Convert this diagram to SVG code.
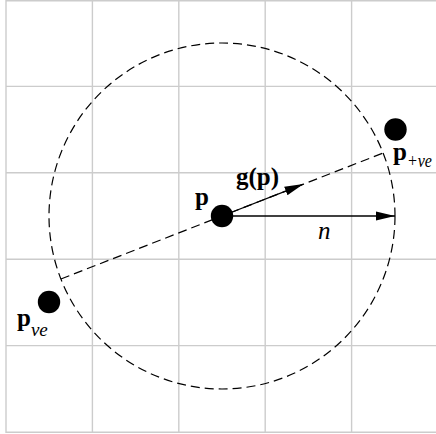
<svg xmlns="http://www.w3.org/2000/svg" width="436" height="434" viewBox="0 0 436 434">
  <style>
    .grid line { stroke: #cccccc; stroke-width: 1.4; }
    .dash { fill: none; stroke: #000; stroke-width: 1.2; stroke-dasharray: 9 5; }
    .arrow { stroke: #000; stroke-width: 1.3; fill: none; marker-end: url(#head); }
    .dot { fill: #000; }
    .b { font-family: "Liberation Serif", "Times New Roman", serif; font-weight: bold; font-size: 25px; fill: #000; }
    .i { font-family: "Liberation Serif", "Times New Roman", serif; font-style: italic; font-size: 25px; fill: #000; }
    .sub { font-family: "Liberation Serif", "Times New Roman", serif; font-style: italic; font-size: 19px; fill: #000; }
  </style>
  <defs>
    <marker id="head" markerUnits="userSpaceOnUse" markerWidth="22" markerHeight="12" refX="19" refY="5" orient="auto">
      <path d="M0,0.5 L19,5 L0,9.5 Z" fill="#000"/>
    </marker>
  </defs>
  <rect width="436" height="434" fill="#fff"/>
  <g class="grid" id="grid">
    <line x1="6" y1="0.7" x2="436" y2="0.7"/>
    <line x1="6" y1="86.4" x2="436" y2="86.4"/>
    <line x1="6" y1="172.8" x2="436" y2="172.8"/>
    <line x1="6" y1="259.2" x2="436" y2="259.2"/>
    <line x1="6" y1="345.6" x2="436" y2="345.6"/>
    <line x1="6" y1="432.3" x2="436" y2="432.3"/>
    <line x1="6" y1="0" x2="6" y2="433"/>
    <line x1="92.4" y1="0" x2="92.4" y2="433"/>
    <line x1="178.8" y1="0" x2="178.8" y2="433"/>
    <line x1="265.2" y1="0" x2="265.2" y2="433"/>
    <line x1="351.6" y1="0" x2="351.6" y2="433"/>
  </g>
  <g id="neighbourhood">
    <circle class="dash" cx="222" cy="216" r="173"/>
  </g>
  <g id="connectors">
    <line class="dash" x1="60.9" y1="279" x2="383.1" y2="153"/>
    <line class="arrow" x1="222" y1="216" x2="303.5" y2="184.1"/>
    <line class="arrow" x1="222" y1="216" x2="395" y2="216"/>
  </g>
  <g id="node-p">
    <circle class="dot" cx="222" cy="216" r="11.2"/>
    <text class="b" x="195" y="205">p</text>
  </g>
  <g id="label-g">
    <text class="b" x="236" y="185">g(p)</text>
  </g>
  <g id="label-n">
    <text class="i" x="318" y="238.5">n</text>
  </g>
  <g id="node-p-pos">
    <circle class="dot" cx="395.5" cy="129.5" r="11.2"/>
    <text x="393" y="160"><tspan class="b">p</tspan><tspan class="sub" dy="7" textLength="25" lengthAdjust="spacingAndGlyphs">+ve</tspan></text>
  </g>
  <g id="node-p-neg">
    <circle class="dot" cx="49" cy="302" r="11.2"/>
    <text x="17" y="326"><tspan class="b">p</tspan><tspan class="sub" dy="10">ve</tspan></text>
  </g>
</svg>
